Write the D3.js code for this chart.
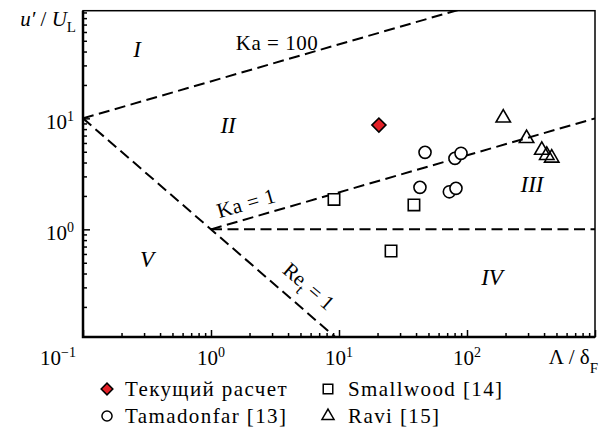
<!DOCTYPE html>
<html>
<head>
<meta charset="utf-8">
<script src="https://cdn.jsdelivr.net/npm/d3@7"></script>
<style>
body { margin: 0; background: #fff; }
</style>
</head>
<body>
<div id="chart"></div>
<script>
// data: [Lambda/delta_F, u'/U_L]
var current = [[20.5, 8.7]];
var tamadonfar = [[47.0, 4.94], [80.5, 4.36], [89.8, 4.84], [42.9, 2.39], [72.8, 2.18], [82.0, 2.34]];
var smallwood = [[9.14, 1.86], [38.5, 1.66], [25.5, 0.638]];
var ravi = [[192, 10.1], [292, 6.6], [384, 5.17], [420, 4.65], [459, 4.4]];

// regime borders
var ka100Line = [[0.1, 10], [100, 100]];
var ka1Line = [[1, 1], [1000, 10]];
var re1Line = [[0.1, 10], [10, 0.1]];
var flameLine = [[1, 1], [1000, 1]];

var regionNames = ['I', 'II', 'III', 'IV', 'V'];
var regionAt = [[0.264, 35.6], [1.36, 7.38], [322, 2.17], [157, 0.315], [0.316, 0.457]];

var xTickExp = [-1, 0, 1, 2];
var yTickExp = [0, 1];
var legendNames = ['Текущий расчет', 'Smallwood [14]', 'Tamadonfar [13]', 'Ravi [15]'];

var width = 602, height = 429;
var x = d3.scaleLog().domain([0.1, 1000]).range([83, 595]);
var y = d3.scaleLog().domain([Math.pow(10, -0.97), Math.pow(10, 1.97)]).range([337, 10.7]);

var svg = d3.select('#chart').append('svg')
	.attr('width', width)
	.attr('height', height)
	.attr('font-family', 'Liberation Serif')
	.style('font-family', "'Liberation Serif', 'DejaVu Serif', serif");

svg.append('clipPath').attr('id', 'clip')
	.append('rect')
	.attr('x', x.range()[0]).attr('y', y.range()[1])
	.attr('width', x.range()[1] - x.range()[0])
	.attr('height', y.range()[0] - y.range()[1]);

// ticks (inward)
function isMajor(v) {
	return Math.abs(Math.log10(v) - Math.round(Math.log10(v))) < 1e-6;
}
var xt = x.ticks();
var yt = y.ticks();

function tickAxis(axis, g) {
	g.call(axis);
	g.select('.domain').remove();
	g.selectAll('line').attr('stroke', '#000').attr('stroke-width', 1.5);
}
tickAxis(d3.axisBottom(x).tickValues(xt.filter(v => !isMajor(v))).tickSize(-4).tickFormat(''),
	svg.append('g').attr('transform', 'translate(0,' + y.range()[0] + ')'));
tickAxis(d3.axisBottom(x).tickValues(xt.filter(isMajor)).tickSize(-7).tickFormat(''),
	svg.append('g').attr('transform', 'translate(0,' + y.range()[0] + ')'));
tickAxis(d3.axisLeft(y).tickValues(yt.filter(v => !isMajor(v))).tickSize(-4).tickFormat(''),
	svg.append('g').attr('transform', 'translate(' + x.range()[0] + ',0)'));
tickAxis(d3.axisLeft(y).tickValues(yt.filter(isMajor)).tickSize(-7).tickFormat(''),
	svg.append('g').attr('transform', 'translate(' + x.range()[0] + ',0)'));

// frame
svg.append('rect')
	.attr('x', x.range()[0]).attr('y', y.range()[1])
	.attr('width', x.range()[1] - x.range()[0])
	.attr('height', y.range()[0] - y.range()[1])
	.attr('fill', 'none').attr('stroke', '#000').attr('stroke-width', 1.5);
svg.append('path')
	.attr('d', 'M' + x.range()[0] + ',' + y.range()[1] + 'V' + y.range()[0] + 'H' + x.range()[1])
	.attr('fill', 'none').attr('stroke', '#000').attr('stroke-width', 2.5);

// tick labels
svg.selectAll('.xlab').data(xTickExp).enter().append('text')
	.attr('class', 'xlab')
	.attr('x', d => x(Math.pow(10, d)) + (d < 0 ? -7 : 0))
	.attr('y', y.range()[0] + 28)
	.attr('text-anchor', d => (d < 0 ? 'end' : 'middle'))
	.attr('font-size', 21)
	.each(function(d) {
		var t = d3.select(this);
		t.append('tspan').text('10');
		t.append('tspan').attr('dy', -8).attr('font-size', 14).text(d < 0 ? '\u2212' + -d : d);
	});

svg.selectAll('.ylab').data(yTickExp).enter().append('text')
	.attr('class', 'ylab')
	.attr('x', x.range()[0] - 9)
	.attr('y', d => y(Math.pow(10, d)) + 11)
	.attr('text-anchor', 'end')
	.attr('font-size', 21)
	.each(function(d) {
		var t = d3.select(this);
		t.append('tspan').text('10');
		t.append('tspan').attr('dy', -8).attr('font-size', 14).text(d);
	});

// axis titles
var xt1 = svg.append('text')
	.attr('x', 598).attr('y', y.range()[0] + 27)
	.attr('text-anchor', 'end')
	.attr('font-size', 21);
xt1.append('tspan').text('\u039B / \u03B4');
xt1.append('tspan').attr('dy', 9).attr('font-size', 15).text('F');

var yt1 = svg.append('text')
	.attr('x', 76).attr('y', 26)
	.attr('text-anchor', 'end')
	.attr('font-size', 21);
yt1.append('tspan').attr('font-style', 'italic').text('u\u2032');
yt1.append('tspan').text(' / ');
yt1.append('tspan').attr('font-style', 'italic').text('U');
yt1.append('tspan').attr('dy', 6).attr('font-size', 15).text('L');

// regime lines
var line = d3.line().x(d => x(d[0])).y(d => y(d[1]));
var plot = svg.append('g').attr('clip-path', 'url(#clip)');
[ka100Line, ka1Line, re1Line, flameLine].forEach(function(l) {
	plot.append('path')
		.attr('d', line(l))
		.attr('fill', 'none')
		.attr('stroke', '#000')
		.attr('stroke-width', 2)
		.attr('stroke-dasharray', '11,5.5');
});

function angle(l) {
	return Math.atan2(y(l[1][1]) - y(l[0][1]), x(l[1][0]) - x(l[0][0])) * 180 / Math.PI;
}

// line labels
svg.append('text')
	.attr('x', x(3.28)).attr('y', y(41.2))
	.attr('text-anchor', 'middle')
	.attr('font-size', 21)
	.attr('letter-spacing', 0.5)
	.text('Ka = 100');

svg.append('text')
	.attr('transform', 'translate(' + x(1.88) + ',' + y(1.73) + ') rotate(' + angle(ka1Line) + ')')
	.attr('text-anchor', 'middle')
	.attr('dy', '0.35em')
	.attr('font-size', 21)
	.attr('letter-spacing', 0.5)
	.text('Ka = 1');

var re = svg.append('text')
	.attr('transform', 'translate(' + x(5.83) + ',' + y(0.308) + ') rotate(' + angle(re1Line) + ')')
	.attr('text-anchor', 'middle')
	.attr('dy', '0.35em')
	.attr('font-size', 21);
re.append('tspan').text('Re');
re.append('tspan').attr('dy', 6).attr('font-size', 15).text('t');
re.append('tspan').attr('dy', -6).text(' = 1');

// region names
svg.selectAll('.region').data(regionNames).enter().append('text')
	.attr('class', 'region')
	.attr('x', (d, i) => x(regionAt[i][0]))
	.attr('y', (d, i) => y(regionAt[i][1]))
	.attr('text-anchor', 'middle')
	.attr('font-size', 23)
	.attr('font-style', 'italic')
	.text(d => d);

// markers
var series = [
	{ data: current, shape: d3.symbolSquare, size: 98, rot: 45, fill: '#e32027' },
	{ data: smallwood, shape: d3.symbolSquare, size: 130, rot: 0, fill: '#fff' },
	{ data: tamadonfar, shape: d3.symbolCircle, size: 115, rot: 0, fill: '#fff' },
	{ data: ravi, shape: d3.symbolTriangle, size: 90, rot: 0, fill: 'none' },
];

[2, 1, 3, 0].forEach(function(k) {
	var s = series[k];
	svg.selectAll('.m' + k).data(s.data).enter().append('path')
		.attr('class', 'm' + k)
		.attr('transform', d => 'translate(' + x(d[0]) + ',' + y(d[1]) + ') rotate(' + s.rot + ')')
		.attr('d', d3.symbol().type(s.shape).size(s.size))
		.attr('fill', s.fill)
		.attr('stroke', '#000')
		.attr('stroke-width', 1.6);
});

// legend
var legend = svg.selectAll('.leg').data(legendNames).enter().append('g')
	.attr('class', 'leg')
	.attr('transform', (d, i) => 'translate(' + (i % 2 ? 328 : 107) + ',' + (i < 2 ? 389 : 416) + ')');

legend.append('path')
	.attr('transform', (d, i) => 'rotate(' + series[i].rot + ')')
	.attr('d', (d, i) => d3.symbol().type(series[i].shape).size(series[i].size * 0.7)())
	.attr('fill', (d, i) => series[i].fill)
	.attr('stroke', '#000')
	.attr('stroke-width', 1.5);

legend.append('text')
	.attr('x', (d, i) => (i % 2 ? 20 : 18))
	.attr('y', 7)
	.attr('font-size', 21)
	.attr('letter-spacing', 1.4)
	.text(d => d);
</script>
</body>
</html>
